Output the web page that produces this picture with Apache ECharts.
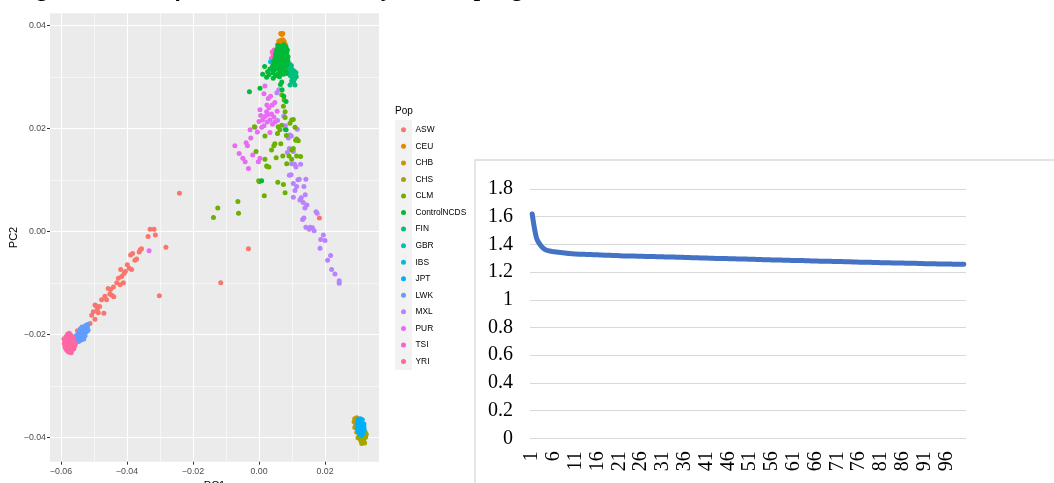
<!DOCTYPE html>
<html><head><meta charset="utf-8">
<script src="https://cdn.jsdelivr.net/npm/echarts@6/dist/echarts.min.js"></script>
<style>html,body{margin:0;padding:0;background:#fff}#c{width:1054px;height:483px}</style>
</head><body><div id="c"></div>
<script>
// ---------- DATA ----------
const titleText = "Figure 2. PCA of cohort and its loss by the sampling";
const pops = ["ASW","CEU","CHB","CHS","CLM","ControlNCDS","FIN","GBR","IBS","JPT","LWK","MXL","PUR","TSI","YRI"];
const popColors = ["#F8766D","#E58700","#C99800","#A3A500","#6BB100","#00BA38","#00BF7D","#00C0AF","#00BCD8","#00B0F6","#619CFF","#B983FF","#E76BF3","#FD61D1","#FF67A4"];
const pc1Ticks = [-0.06,-0.04,-0.02,0,0.02];
const pc1Minor = [-0.05,-0.03,-0.01,0.01,0.03];
const pc2Ticks = [-0.04,-0.02,0,0.02,0.04];
const pc2Minor = [-0.03,-0.01,0.01,0.03];

const ASW = [[-0.0330,0.0004],[-0.0318,0.0004],[-0.0336,-0.0010],[-0.0314,-0.0007],[-0.0282,-0.0031],[-0.0356,-0.0034],[-0.0363,-0.0040],[-0.0383,-0.0043],[-0.0389,-0.0046],[-0.0371,-0.0054],[-0.0376,-0.0056],[-0.0399,-0.0065],[-0.0393,-0.0072],[-0.0386,-0.0074],[-0.0419,-0.0074],[-0.0409,-0.0082],[-0.0426,-0.0091],[-0.0416,-0.0088],[-0.0431,-0.0100],[-0.0411,-0.0100],[-0.0421,-0.0104],[-0.0441,-0.0108],[-0.0457,-0.0111],[-0.0446,-0.0124],[-0.0467,-0.0126],[-0.0477,-0.0133],[-0.0462,-0.0133],[-0.0440,-0.0127],[-0.0497,-0.0143],[-0.0490,-0.0152],[-0.0502,-0.0156],[-0.0507,-0.0163],[-0.0487,-0.0158],[-0.0470,-0.0159],[-0.0497,-0.0171],[-0.0512,-0.0179],[-0.0550,-0.0193],[-0.0302,-0.0125],[-0.0241,0.0074],[-0.0116,-0.0100],[-0.0032,-0.0034],[0.0183,0.0026],[-0.0452,-0.0122],[-0.0483,-0.0146],[-0.0493,-0.0145],[-0.0450,-0.0113],[-0.0405,-0.0078],[-0.0360,-0.0036]];
const CEU = [[0.0066,0.0384],[0.0072,0.0384],[0.0069,0.0382],[0.0060,0.0369],[0.0066,0.0371],[0.0072,0.0372],[0.0076,0.0369],[0.0063,0.0364],[0.0070,0.0366],[0.0077,0.0364],[0.0056,0.0362],[0.0074,0.0360],[0.0080,0.0362],[0.0059,0.0359],[0.0068,0.0361]];
const CHB = [[0.0290,-0.0364],[0.0296,-0.0362],[0.0288,-0.0370],[0.0293,-0.0375],[0.0290,-0.0381],[0.0300,-0.0366],[0.0305,-0.0372],[0.0303,-0.0385],[0.0322,-0.0390],[0.0318,-0.0398],[0.0296,-0.0390],[0.0310,-0.0402]];
const CHS = [[0.0305,-0.0396],[0.0312,-0.0400],[0.0318,-0.0404],[0.0308,-0.0406],[0.0315,-0.0409],[0.0320,-0.0411],[0.0311,-0.0412],[0.0300,-0.0401],[0.0323,-0.0400],[0.0316,-0.0395],[0.0304,-0.0392],[0.0325,-0.0394]];
const CLM = [[0.0069,0.0265],[0.0074,0.0243],[0.0079,0.0232],[0.0079,0.0221],[0.0099,0.0216],[0.0094,0.0210],[0.0069,0.0206],[0.0058,0.0203],[0.0063,0.0197],[0.0109,0.0202],[0.0056,0.0190],[0.0018,0.0185],[-0.0014,0.0203],[0.0114,0.0179],[0.0119,0.0176],[0.0048,0.0170],[0.0045,0.0166],[0.0099,0.0158],[0.0104,0.0161],[-0.0009,0.0155],[0.0038,0.0158],[0.0072,0.0146],[0.0052,0.0143],[0.0114,0.0146],[0.0126,0.0145],[0.0099,0.0140],[0.0018,0.0140],[0.0023,0.0127],[0.0025,0.0126],[0.0084,0.0131],[0.0001,0.0096],[0.0074,0.0091],[0.0057,0.0095],[0.0079,0.0075],[0.0016,0.0069],[-0.0138,0.0027],[-0.0125,0.0045],[-0.0064,0.0058],[-0.0062,0.0035],[-0.0001,0.0098],[0.0104,0.0217],[0.0111,0.0177],[0.0091,0.0146],[0.0076,0.0255],[0.0083,0.0186],[0.0066,0.0170],[0.0030,0.0125]];
const ControlNCDS = [[0.0058,0.0361],[0.0066,0.0359],[0.0075,0.0362],[0.0082,0.0358],[0.0055,0.0354],[0.0063,0.0356],[0.0071,0.0353],[0.0079,0.0355],[0.0086,0.0352],[0.0052,0.0349],[0.0060,0.0347],[0.0068,0.0350],[0.0076,0.0348],[0.0084,0.0346],[0.0050,0.0344],[0.0057,0.0341],[0.0065,0.0343],[0.0073,0.0340],[0.0081,0.0342],[0.0088,0.0339],[0.0048,0.0336],[0.0055,0.0334],[0.0063,0.0337],[0.0071,0.0333],[0.0079,0.0335],[0.0087,0.0332],[0.0045,0.0329],[0.0053,0.0327],[0.0061,0.0330],[0.0069,0.0326],[0.0077,0.0328],[0.0085,0.0325],[0.0041,0.0321],[0.0049,0.0323],[0.0057,0.0320],[0.0065,0.0322],[0.0073,0.0319],[0.0081,0.0321],[0.0037,0.0315],[0.0046,0.0313],[0.0055,0.0316],[0.0063,0.0312],[0.0071,0.0314],[0.0079,0.0311],[0.0042,0.0308],[0.0057,0.0306],[0.0066,0.0309],[0.0074,0.0305],[0.0083,0.0307],[0.0030,0.0304],[0.0050,0.0302],[0.0062,0.0300],[-0.0029,0.0271],[0.0003,0.0278],[0.0011,0.0305],[0.0023,0.0299],[0.0033,0.0315],[0.0069,0.0290],[0.0070,0.0275],[0.0082,0.0252],[0.0082,0.0197],[0.0008,0.0098],[0.0043,0.0297],[0.0065,0.0285],[0.0075,0.0262],[0.0026,0.0310],[0.0017,0.0320]];
const FIN = [[0.0086,0.0328],[0.0092,0.0326],[0.0098,0.0322],[0.0088,0.0320],[0.0094,0.0317],[0.0101,0.0314],[0.0107,0.0311],[0.0090,0.0312],[0.0097,0.0308],[0.0104,0.0305],[0.0110,0.0303],[0.0095,0.0302],[0.0101,0.0298],[0.0108,0.0296],[0.0113,0.0300],[0.0099,0.0292],[0.0105,0.0290],[0.0094,0.0284],[0.0109,0.0284],[0.0084,0.0316],[0.0112,0.0308]];
const GBR = [[0.0080,0.0318],[0.0088,0.0306],[0.0076,0.0330],[0.0079,0.0198]];
const IBS = [[0.0035,0.0329],[0.0060,0.0340]];
const JPT = [[0.0300,-0.0365],[0.0307,-0.0364],[0.0313,-0.0366],[0.0298,-0.0371],[0.0305,-0.0370],[0.0312,-0.0372],[0.0318,-0.0374],[0.0297,-0.0377],[0.0304,-0.0377],[0.0311,-0.0378],[0.0318,-0.0380],[0.0298,-0.0383],[0.0305,-0.0384],[0.0312,-0.0385],[0.0319,-0.0386],[0.0301,-0.0389],[0.0308,-0.0390],[0.0315,-0.0392],[0.0305,-0.0394],[0.0311,-0.0396]];
const LWK = [[-0.0525,-0.0183],[-0.0520,-0.0187],[-0.0530,-0.0186],[-0.0524,-0.0190],[-0.0518,-0.0192],[-0.0535,-0.0190],[-0.0529,-0.0193],[-0.0523,-0.0195],[-0.0540,-0.0194],[-0.0534,-0.0196],[-0.0528,-0.0198],[-0.0545,-0.0197],[-0.0539,-0.0199],[-0.0533,-0.0201],[-0.0527,-0.0203],[-0.0550,-0.0201],[-0.0544,-0.0202],[-0.0538,-0.0204],[-0.0532,-0.0206],[-0.0556,-0.0204],[-0.0549,-0.0206],[-0.0543,-0.0208],[-0.0537,-0.0210],[-0.0561,-0.0207],[-0.0555,-0.0209],[-0.0548,-0.0211],[-0.0542,-0.0212],[-0.0566,-0.0209],[-0.0560,-0.0212],[-0.0553,-0.0213],[-0.0547,-0.0214],[-0.0519,-0.0181],[-0.0531,-0.0209],[-0.0536,-0.0186],[-0.0541,-0.0189]];
const MXL = [[0.0054,0.0269],[0.0056,0.0215],[0.0094,0.0187],[0.0089,0.0181],[0.0116,0.0198],[0.0092,0.0161],[0.0104,0.0155],[0.0099,0.0131],[0.0108,0.0130],[0.0126,0.0130],[0.0092,0.0109],[0.0097,0.0110],[0.0122,0.0101],[0.0142,0.0101],[0.0104,0.0093],[0.0114,0.0087],[0.0136,0.0087],[0.0109,0.0079],[0.0140,0.0071],[0.0104,0.0066],[0.0124,0.0061],[0.0134,0.0056],[0.0145,0.0051],[0.0139,0.0045],[0.0173,0.0038],[0.0132,0.0023],[0.0136,0.0026],[0.0142,0.0008],[0.0155,0.0008],[0.0162,0.0007],[0.0167,0.0001],[0.0195,-0.0007],[0.0187,-0.0016],[0.0200,-0.0018],[0.0185,-0.0033],[0.0217,-0.0047],[0.0208,-0.0056],[0.0220,-0.0074],[0.0230,-0.0083],[0.0243,-0.0101],[0.0243,-0.0096],[0.0086,0.0153],[0.0112,0.0125],[0.0098,0.0185],[0.0152,0.0004],[0.0176,0.0035],[0.0080,0.0205],[0.0060,0.0275],[0.0075,0.0224],[0.0118,0.0100],[0.0128,0.0065]];
const PUR = [[0.0018,0.0282],[0.0015,0.0267],[0.0028,0.0258],[0.0035,0.0262],[0.0048,0.0250],[0.0003,0.0236],[0.0030,0.0240],[0.0023,0.0232],[0.0018,0.0223],[0.0011,0.0216],[0.0033,0.0216],[0.0038,0.0228],[0.0045,0.0222],[-0.0027,0.0197],[-0.0012,0.0202],[0.0008,0.0202],[0.0033,0.0192],[-0.0005,0.0193],[-0.0025,0.0181],[-0.0073,0.0166],[-0.0039,0.0172],[-0.0035,0.0166],[-0.0060,0.0151],[-0.0049,0.0142],[-0.0019,0.0148],[0.0003,0.0142],[-0.0002,0.0135],[-0.0042,0.0135],[-0.0032,0.0122],[0.0041,0.0208],[0.0025,0.0212],[0.0015,0.0205],[0.0028,0.0227],[0.0040,0.0245],[0.0055,0.0233],[0.0048,0.0212],[-0.0333,-0.0038],[0.0000,0.0213],[0.0024,0.0245],[0.0005,0.0225]];
const TSI = [[0.0040,0.0348],[0.0046,0.0352],[0.0052,0.0350],[0.0043,0.0342],[0.0049,0.0345],[0.0038,0.0336],[0.0045,0.0337],[0.0052,0.0340],[0.0041,0.0330],[0.0048,0.0332],[0.0055,0.0345],[0.0058,0.0352]];
const YRI = [[-0.0585,-0.0205],[-0.0580,-0.0200],[-0.0575,-0.0198],[-0.0570,-0.0202],[-0.0588,-0.0212],[-0.0582,-0.0210],[-0.0576,-0.0207],[-0.0570,-0.0209],[-0.0565,-0.0212],[-0.0590,-0.0218],[-0.0584,-0.0216],[-0.0578,-0.0214],[-0.0572,-0.0217],[-0.0566,-0.0219],[-0.0561,-0.0215],[-0.0588,-0.0224],[-0.0582,-0.0222],[-0.0576,-0.0221],[-0.0570,-0.0224],[-0.0564,-0.0226],[-0.0558,-0.0222],[-0.0585,-0.0229],[-0.0579,-0.0227],[-0.0573,-0.0230],[-0.0567,-0.0231],[-0.0561,-0.0228],[-0.0575,-0.0235],[-0.0569,-0.0236],[-0.0580,-0.0233],[-0.0556,-0.0218],[-0.0591,-0.0209],[-0.0577,-0.0203],[-0.0563,-0.0206],[-0.0586,-0.0219],[-0.0574,-0.0226]];

// right chart
const lineCats = Array.from({length:100},(_, i)=>String(i+1));
const lineValues = [1.620,1.445,1.390,1.362,1.352,1.347,1.343,1.340,1.336,1.333,
1.330,1.329,1.328,1.327,1.326,1.325,1.323,1.322,1.321,1.320,
1.318,1.317,1.317,1.316,1.315,1.314,1.313,1.313,1.312,1.311,
1.310,1.309,1.309,1.308,1.307,1.306,1.305,1.304,1.303,1.302,
1.301,1.300,1.299,1.298,1.298,1.297,1.296,1.295,1.294,1.294,
1.293,1.292,1.291,1.290,1.289,1.288,1.287,1.287,1.286,1.285,
1.284,1.283,1.283,1.282,1.281,1.280,1.279,1.279,1.278,1.277,
1.276,1.276,1.275,1.274,1.273,1.272,1.271,1.271,1.270,1.269,
1.268,1.268,1.267,1.266,1.265,1.265,1.264,1.263,1.263,1.262,
1.261,1.260,1.260,1.259,1.259,1.258,1.258,1.257,1.257,1.256];

// ---------- CHART ----------
const popData = {ASW,CEU,CHB,CHS,CLM,ControlNCDS,FIN,GBR,IBS,JPT,LWK,MXL,PUR,TSI,YRI};
const drawOrder = ["ASW","CHB","CHS","JPT","CEU","TSI","GBR","IBS","FIN","LWK","YRI","MXL","PUR","CLM","ControlNCDS"];
const fmt = v => (v < 0 ? "\u2212" : "") + Math.abs(v).toFixed(2);
const sans = "Liberation Sans";
const serif = "Liberation Serif";

const scatterSeries = drawOrder.map(p => ({
  name: p, type: 'scatter', xAxisIndex: 0, yAxisIndex: 0,
  data: popData[p], symbolSize: 5,
  itemStyle: {color: popColors[pops.indexOf(p)], opacity: 1},
  emphasis: {disabled: true}, silent: true
}));

const X0 = -0.06333, X1 = 0.03636, Y0 = -0.04474, Y1 = 0.04233;
const noLine = {show: false, onZero: false};

const option = {
  animation: false,
  grid: [
    {left: 50, top: 13.3, width: 329, height: 448.4, show: true, backgroundColor: '#EBEBEB', borderWidth: 0, outerBoundsMode: 'none', containLabel: false},
    {left: 530, top: 189, width: 436, height: 249.3, outerBoundsMode: 'none', containLabel: false}
  ],
  xAxis: [
    {gridIndex: 0, type: 'value', min: X0, max: X1, position: 'bottom',
     name: 'PC1', nameLocation: 'middle', nameGap: 17, nameTextStyle: {fontFamily: sans, fontSize: 11, color: '#000'},
     axisLine: noLine,
     axisTick: {show: true, length: 3, lineStyle: {color: '#333', width: 1}, customValues: pc1Ticks},
     axisLabel: {customValues: pc1Ticks, formatter: fmt, fontFamily: sans, fontSize: 8.8, color: '#4D4D4D', margin: 5},
     splitLine: {show: true, lineStyle: {color: '#FFFFFF', width: 1.1}}},
    {gridIndex: 0, type: 'value', min: X0, max: X1, position: 'top',
     axisLine: noLine, axisTick: {show: false, customValues: pc1Minor}, axisLabel: {show: false},
     splitLine: {show: true, lineStyle: {color: '#FFFFFF', width: 0.55}}},
    {gridIndex: 1, type: 'category', data: lineCats, boundaryGap: true,
     axisLine: noLine, axisTick: {show: false},
     axisLabel: {interval: 4, rotate: 90, fontFamily: serif, fontSize: 20, color: '#000', margin: 13}}
  ],
  yAxis: [
    {gridIndex: 0, type: 'value', min: Y0, max: Y1, position: 'left',
     name: 'PC2', nameLocation: 'middle', nameGap: 27.5, nameTextStyle: {fontFamily: sans, fontSize: 11, color: '#000'},
     axisLine: noLine,
     axisTick: {show: true, length: 3, lineStyle: {color: '#333', width: 1}, customValues: pc2Ticks},
     axisLabel: {customValues: pc2Ticks, formatter: fmt, fontFamily: sans, fontSize: 8.8, color: '#4D4D4D', margin: 4},
     splitLine: {show: true, lineStyle: {color: '#FFFFFF', width: 1.1}}},
    {gridIndex: 0, type: 'value', min: Y0, max: Y1, position: 'right',
     axisLine: noLine, axisTick: {show: false, customValues: pc2Minor}, axisLabel: {show: false},
     splitLine: {show: true, lineStyle: {color: '#FFFFFF', width: 0.55}}},
    {gridIndex: 1, type: 'value', min: 0, max: 1.8, interval: 0.2,
     axisLine: noLine, axisTick: {show: false},
     axisLabel: {fontFamily: serif, fontSize: 20, color: '#000', margin: 17},
     splitLine: {show: true, lineStyle: {color: '#D9D9D9', width: 1}}}
  ],
  legend: {
    data: pops, orient: 'vertical', left: 396, top: 120.8, itemWidth: 14, itemHeight: 5,
    itemGap: 8.55, icon: 'circle', selectedMode: false,
    textStyle: {fontFamily: sans, fontSize: 8.4, color: '#000', padding: [0,0,0,0]}
  },
  graphic: [
    {type: 'rect', z: -1, shape: {x: 395, y: 120, width: 17, height: 250}, style: {fill: '#F2F2F2'}},
    {type: 'text', left: 395, top: 106, style: {text: 'Pop', font: '10px "Liberation Sans"', fill: '#000'}},
    {type: 'rect', shape: {x: 475, y: 160, width: 640, height: 400}, style: {fill: 'none', stroke: '#D9D9D9', lineWidth: 1.3}},
    {type: 'text', x: 16, y: -10.5, style: {text: titleText, font: 'italic bold 23.6px "Liberation Serif"', fill: '#000', textVerticalAlign: 'middle'}}
  ],
  series: scatterSeries.concat([{
    type: 'line', xAxisIndex: 2, yAxisIndex: 2, data: lineValues, showSymbol: false, smooth: 0.3,
    lineStyle: {color: '#4472C4', width: 5, cap: 'round', join: 'round'}, silent: true
  }])
};
const chart = echarts.init(document.getElementById('c'), null, {renderer: 'canvas'});
chart.setOption(option);
</script></body></html>
